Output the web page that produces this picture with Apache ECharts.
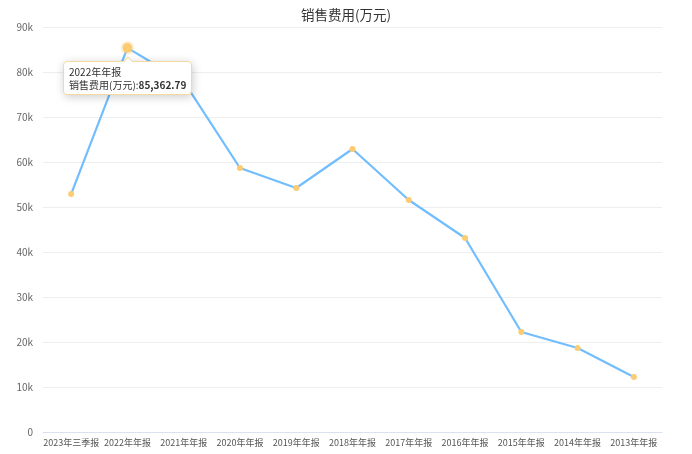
<!DOCTYPE html>
<html style="height: 100%">
    <head>
        <meta charset="utf-8">
    </head>
    <body style="height: 100%; margin: 0">
        <div id="container" style="height: 100%"></div>
        <script type="text/javascript" src="https://cdn.jsdelivr.net/npm/echarts@6/dist/echarts.min.js"></script>
    </body>
</html>
<script type="text/javascript">
    var periods = ['2023年三季报', '2022年年报', '2021年年报', '2020年年报', '2019年年报', '2018年年报',
        '2017年年报', '2016年年报', '2015年年报', '2014年年报', '2013年年报'];
    var salesCost = [52880, 85362.79, 77900, 58670, 54220, 62890, 51560, 43110, 22220, 18670, 12220];
    var seriesName = '销售费用(万元)';

    var dom = document.getElementById("container");
    var myChart = echarts.init(dom);
    var font = '"Noto Sans CJK SC", sans-serif';
    var option;

    option = {
      animation: false,
      title: {
        text: seriesName,
        left: 'center',
        top: 3,
        textStyle: { fontSize: 13.5, fontWeight: 'normal', color: '#333', fontFamily: font }
      },
      tooltip: {
        trigger: 'item',
        position: 'bottom',
        alwaysShowContent: true,
        backgroundColor: '#fff',
        borderColor: '#f5d9a0',
        borderWidth: 1,
        padding: [3, 5],
        textStyle: { fontSize: 10, lineHeight: 13, color: '#333', fontFamily: font },
        extraCssText: 'line-height:13px;',
        formatter: function (p) {
          return p.name + '<br/>' + p.seriesName + ':<b>' +
            p.value.toLocaleString('en-US', { minimumFractionDigits: 2, maximumFractionDigits: 2 }) + '</b>';
        }
      },
      grid: {
        left: 43,
        right: 30,
        top: 27,
        bottom: 22
      },
      xAxis: {
        type: 'category',
        data: periods,
        boundaryGap: true,
        axisLine: { lineStyle: { color: '#d9e2ef' } },
        axisTick: { lineStyle: { color: '#d9e2ef' } },
        axisLabel: { fontSize: 9, color: '#555', fontFamily: font, margin: 6, interval: 0 }
      },
      yAxis: {
        type: 'value',
        min: 0,
        max: 90000,
        interval: 10000,
        axisLine: { show: false },
        axisTick: { show: false },
        splitLine: { lineStyle: { color: '#eeeeee' } },
        axisLabel: {
          fontSize: 10, color: '#666', fontFamily: font, margin: 10,
          formatter: function (v) { return v === 0 ? '0' : (v / 1000) + 'k'; }
        }
      },
      series: [
        {
          name: seriesName,
          type: 'line',
          data: salesCost,
          symbol: 'circle',
          symbolSize: 6,
          lineStyle: { color: '#68ace6', width: 2.2 },
          itemStyle: { color: '#fccb72' },
          emphasis: {
            scale: 1.6,
            itemStyle: { color: '#fccb72', borderColor: 'rgba(252,203,114,0.3)', borderWidth: 4 }
          }
        }
      ]
    };

    if (option && typeof option === 'object') {
        myChart.setOption(option);
    }
    myChart.dispatchAction({ type: 'highlight', seriesIndex: 0, dataIndex: 1 });
    myChart.dispatchAction({ type: 'showTip', seriesIndex: 0, dataIndex: 1 });
</script>
